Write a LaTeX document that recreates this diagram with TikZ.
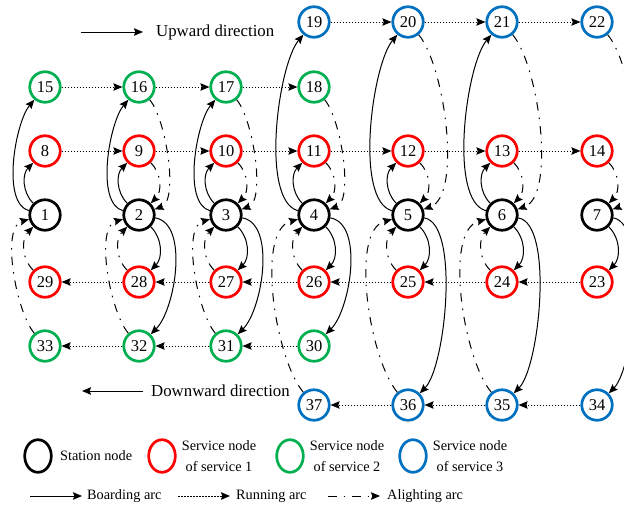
\documentclass[tikz,border=0pt]{standalone}
\usepackage{fontspec}
\setmainfont{Liberation Serif}
\usetikzlibrary{arrows.meta,shapes.geometric}
\definecolor{sred}{RGB}{255,0,0}
\definecolor{sgreen}{RGB}{0,176,80}
\definecolor{sblue}{RGB}{0,112,192}
\newcommand{\nodefnt}{\fontsize{16.5}{19}\selectfont}
\newcommand{\dirfnt}{\fontsize{16.8}{20}\selectfont}
\newcommand{\legfnt}{\fontsize{14.3}{20.5}\selectfont}
\tikzset{
  stn/.style={circle, draw=black, line width=2.7pt, minimum size=30.5pt, inner sep=0pt, font=\nodefnt},
  svone/.style={stn, draw=sred},
  svtwo/.style={stn, draw=sgreen},
  svthree/.style={stn, draw=sblue},
  legell/.style={ellipse, line width=2.7pt, minimum width=26.6pt, minimum height=32.6pt, inner sep=0pt},
  board/.style={-{Stealth[length=9pt,width=7.5pt,inset=1.3pt]}, line width=1pt, line cap=butt},
  runarc/.style={board, dash pattern=on 1.7pt off 1.3pt},
  alight/.style={board, dash pattern=on 8.5pt off 7pt on 1.6pt off 7pt},
  lbl/.style={anchor=west, inner sep=0pt}
}
\begin{document}
\begin{tikzpicture}[x=1pt,y=-1pt]
\clip (0,0) rectangle (624,507);
% station nodes
\node[stn] (n1) at (45,215) {1};
\node[stn] (n2) at (139,215) {2};
\node[stn] (n3) at (226,215) {3};
\node[stn] (n4) at (314,215) {4};
\node[stn] (n5) at (408,215) {5};
\node[stn] (n6) at (502,215) {6};
\node[stn] (n7) at (597,215) {7};
% service 1 upward
\node[svone] (n8) at (45,151) {8};
\node[svone] (n9) at (139,151) {9};
\node[svone] (n10) at (226,151) {10};
\node[svone] (n11) at (314,151) {11};
\node[svone] (n12) at (408,151) {12};
\node[svone] (n13) at (502,151) {13};
\node[svone] (n14) at (597,151) {14};
% service 2 upward
\node[svtwo] (n15) at (45,87) {15};
\node[svtwo] (n16) at (139,87) {16};
\node[svtwo] (n17) at (226,87) {17};
\node[svtwo] (n18) at (314,87) {18};
% service 3 upward
\node[svthree] (n19) at (314,22) {19};
\node[svthree] (n20) at (408,22) {20};
\node[svthree] (n21) at (502,22) {21};
\node[svthree] (n22) at (597,22) {22};
% service 1 downward
\node[svone] (n23) at (597,282) {23};
\node[svone] (n24) at (502,282) {24};
\node[svone] (n25) at (408,282) {25};
\node[svone] (n26) at (314,282) {26};
\node[svone] (n27) at (226,282) {27};
\node[svone] (n28) at (139,282) {28};
\node[svone] (n29) at (45,282) {29};
% service 2 downward
\node[svtwo] (n30) at (314,346) {30};
\node[svtwo] (n31) at (226,346) {31};
\node[svtwo] (n32) at (139,346) {32};
\node[svtwo] (n33) at (45,346) {33};
% service 3 downward
\node[svthree] (n34) at (597,405) {34};
\node[svthree] (n35) at (502,405) {35};
\node[svthree] (n36) at (408,405) {36};
\node[svthree] (n37) at (314,405) {37};

% running arcs
\foreach \a/\b in {19/20,20/21,21/22,15/16,16/17,17/18,8/9,9/10,10/11,11/12,12/13,13/14,23/24,24/25,25/26,26/27,27/28,28/29,30/31,31/32,32/33,34/35,35/36,36/37}
  \draw[runarc] (n\a) -- (n\b);
% boarding arcs, upward
\foreach \s/\t in {1/8,2/9,3/10,4/11,5/12,6/13}
  \draw[board] (n\s) to[out=135,in=225] (n\t);
\foreach \s/\t in {1/15,2/16,3/17}
  \draw[board] (n\s) to[out=165,in=230,looseness=0.67] (n\t);
\foreach \s/\t in {4/19,5/20,6/21}
  \draw[board] (n\s) to[out=165,in=230,looseness=0.57] (n\t);
% alighting arcs, upward
\foreach \s/\t in {9/2,10/3,11/4,12/5,13/6,14/7}
  \draw[alight] (n\s) to[out=-45,in=45] (n\t);
\foreach \s/\t in {16/2,17/3,18/4,20/5,21/6,22/7}
  \draw[alight] (n\s) to[out=-50,in=20,looseness=0.6] (n\t);
% boarding arcs, downward
\foreach \s/\t in {2/28,3/27,4/26,5/25,6/24,7/23}
  \draw[board] (n\s) to[out=-45,in=45] (n\t);
\foreach \s/\t in {2/32,3/31,4/30}
  \draw[board] (n\s) to[out=-10,in=45,looseness=0.76] (n\t);
\foreach \s/\t in {5/36,6/35,7/34}
  \draw[board] (n\s) to[out=-10,in=45,looseness=0.53] (n\t);
% alighting arcs, downward
\foreach \s/\t in {29/1,28/2,27/3,26/4,25/5,24/6}
  \draw[alight] (n\s) to[out=135,in=225] (n\t);
\foreach \s/\t in {33/1,32/2,31/3,37/4,36/5,35/6}
  \draw[alight] (n\s) to[out=130,in=195,looseness=0.65] (n\t);

% direction labels
\coordinate (ua) at (81,32);
\coordinate (ub) at (143,32);
\draw[board] (ua) -- (ub);
\node[lbl, font=\dirfnt] (ut) at (156,32) {Upward direction};
\coordinate (da) at (143,391);
\coordinate (db) at (82,391);
\draw[board] (da) -- (db);
\node[lbl, font=\dirfnt] (dt) at (151,391) {Downward direction};

% legend: nodes
\node[legell, draw=black] (lg1) at (38,456) {};
\node[lbl, font=\legfnt] (lt1) at (60,456) {Station node};
\node[legell, draw=sred] (lg2) at (162,456) {};
\node[font=\legfnt, align=center, inner sep=0pt] (lt2) at (219,456) {Service node\\of service 1};
\node[legell, draw=sgreen] (lg3) at (290,456) {};
\node[font=\legfnt, align=center, inner sep=0pt] (lt3) at (347,456) {Service node\\of service 2};
\node[legell, draw=sblue] (lg4) at (413,456) {};
\node[font=\legfnt, align=center, inner sep=0pt] (lt4) at (470,456) {Service node\\of service 3};

% legend: arcs
\coordinate (la1) at (30,496);
\coordinate (la2) at (82,496);
\draw[board] (la1) -- (la2);
\node[lbl, font=\legfnt] (lb1) at (87,496) {Boarding arc};
\coordinate (lb2a) at (178,496);
\coordinate (lb2b) at (230,496);
\draw[runarc] (lb2a) -- (lb2b);
\node[lbl, font=\legfnt] (lb2) at (236,496) {Running arc};
\coordinate (lb3a) at (328,496);
\coordinate (lb3b) at (380,496);
\draw[alight] (lb3a) -- (lb3b);
\node[lbl, font=\legfnt] (lb3) at (387,496) {Alighting arc};
\end{tikzpicture}
\end{document}
